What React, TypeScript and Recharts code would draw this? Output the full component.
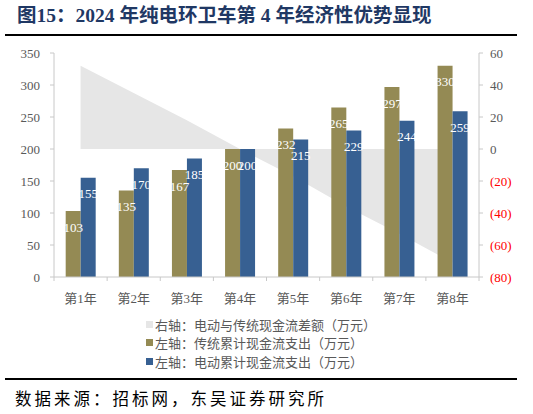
import React from 'react';
import { ComposedChart, Bar, Area, XAxis, YAxis, LabelList } from 'recharts';

const categories = ['第1年', '第2年', '第3年', '第4年', '第5年', '第6年', '第7年', '第8年'];
const traditional = [103, 135, 167, 200, 232, 265, 297, 330];
const electric = [155, 170, 185, 200, 215, 229, 244, 259];
const difference = [52, 35, 18, 0, -17, -36, -53, -71];
const leftTicks = [0, 50, 100, 150, 200, 250, 300, 350];
const rightTicks = [-80, -60, -40, -20, 0, 20, 40, 60];

const titleText = '图15：2024 年纯电环卫车第 4 年经济性优势显现';
const sourceText = '数据来源：招标网，东吴证券研究所';

const COLOR_DIFF = '#E6E6E6';
const COLOR_TRAD = '#948A54';
const COLOR_ELEC = '#376092';
const AXIS = '#C8C8C8';
const TEXT = '#595959';

const legendItems = [
  { label: '右轴：电动与传统现金流差额（万元）', color: COLOR_DIFF },
  { label: '左轴：传统累计现金流支出（万元）', color: COLOR_TRAD },
  { label: '左轴：电动累计现金流支出（万元）', color: COLOR_ELEC },
];

const data = categories.map((c, i) => ({
  name: c,
  trad: traditional[i],
  elec: electric[i],
  diff: difference[i],
}));

const SERIF = "'Liberation Serif', 'Times New Roman', serif";
const CJK = "'Liberation Serif', 'Noto Sans CJK SC', sans-serif";

const LeftTick = (props: any) => {
  const { x, y, payload } = props;
  return (
    <text x={x} y={y} dy="0.355em" textAnchor="end" fill={TEXT} fontSize={13} fontFamily={SERIF}>
      {payload.value}
    </text>
  );
};

const RightTick = (props: any) => {
  const { x, y, payload } = props;
  const v = payload.value as number;
  const label = v < 0 ? `(${Math.abs(v)})` : `${v}`;
  return (
    <text x={x} y={y} dy="0.355em" textAnchor="start" fill={v < 0 ? '#FF0000' : TEXT} fontSize={13} fontFamily={SERIF}>
      {label}
    </text>
  );
};

const XTick = (props: any) => {
  const { x, y, payload, index } = props;
  const off = payload.offset || 0;
  return (
    <g>
      <line x1={x - off} x2={x - off} y1={y} y2={y + 4} stroke={AXIS} />
      {index === categories.length - 1 && (
        <line x1={x + off} x2={x + off} y1={y} y2={y + 4} stroke={AXIS} />
      )}
      <text x={x} y={y + 21} dy="0.355em" textAnchor="middle" fill={TEXT} fontSize={13} fontFamily={CJK}>
        {payload.value}
      </text>
    </g>
  );
};

const BarLabel = (props: any) => {
  const { x, y, width, value } = props;
  return (
    <text
      x={x + width / 2}
      y={y + 16}
      dy="0.355em"
      textAnchor="middle"
      fill="#FFFFFF"
      fontSize={13}
      fontFamily={SERIF}
    >
      {value}
    </text>
  );
};

export default function App() {
  return (
    <div
      style={{
        position: 'absolute',
        left: 0,
        top: 0,
        width: 533,
        height: 414,
        background: '#fff',
        overflow: 'hidden',
      }}
    >
      <div
        style={{
          position: 'absolute',
          left: 17,
          top: 4,
          fontFamily: CJK,
          fontWeight: 'bold',
          fontSize: 19.5,
          color: '#1F3864',
          whiteSpace: 'nowrap',
          lineHeight: '24px',
        }}
      >
        {titleText}
      </div>
      <div style={{ position: 'absolute', left: 5, top: 34, width: 512, height: 2, background: '#000' }} />

      <div style={{ position: 'absolute', left: 0, top: 0 }}>
        <ComposedChart
          width={533}
          height={320}
          data={data}
          margin={{ top: 53, right: 4, left: 14, bottom: 13 }}
          barCategoryGap="22%"
          barGap={0}
        >
          <XAxis
            dataKey="name"
            xAxisId={0}
            height={30}
            axisLine={{ stroke: AXIS }}
            tickLine={false}
            tickSize={0}
            tickMargin={0}
            interval={0}
            tick={<XTick />}
          />
          <YAxis
            yAxisId="left"
            orientation="left"
            width={40}
            type="number"
            domain={[0, 350]}
            ticks={leftTicks}
            interval={0}
            axisLine={{ stroke: AXIS }}
            tickLine={{ stroke: AXIS }}
            tickSize={4}
            tickMargin={10}
            tick={<LeftTick />}
          />
          <YAxis
            yAxisId="right"
            orientation="right"
            width={50}
            type="number"
            domain={[-80, 60]}
            ticks={rightTicks}
            interval={0}
            axisLine={{ stroke: AXIS }}
            tickLine={{ stroke: AXIS }}
            tickSize={4}
            tickMargin={7}
            tick={<RightTick />}
          />
          <Area
            yAxisId="right"
            dataKey="diff"
            type="linear"
            fill={COLOR_DIFF}
            fillOpacity={1}
            stroke="none"
            baseValue={0}
            isAnimationActive={false}
          />
          <Bar yAxisId="left" dataKey="trad" fill={COLOR_TRAD} isAnimationActive={false}>
            <LabelList dataKey="trad" content={<BarLabel />} />
          </Bar>
          <Bar yAxisId="left" dataKey="elec" fill={COLOR_ELEC} isAnimationActive={false}>
            <LabelList dataKey="elec" content={<BarLabel />} />
          </Bar>
        </ComposedChart>
      </div>

      <div style={{ position: 'absolute', left: 146, top: 315 }}>
        {legendItems.map((item) => (
          <div
            key={item.label}
            style={{ display: 'flex', alignItems: 'center', height: 18.5, whiteSpace: 'nowrap' }}
          >
            <div style={{ width: 7, height: 7, background: item.color, marginRight: 2 }} />
            <span style={{ fontFamily: "'Noto Sans CJK SC', sans-serif", fontSize: 13, color: TEXT }}>
              {item.label}
            </span>
          </div>
        ))}
      </div>

      <div style={{ position: 'absolute', left: 5, top: 378, width: 512, height: 2, background: '#000' }} />
      <div
        style={{
          position: 'absolute',
          left: 15,
          top: 386,
          fontFamily: "'Noto Sans CJK SC', sans-serif",
          fontSize: 16.5,
          letterSpacing: 3,
          color: '#000',
          whiteSpace: 'nowrap',
          lineHeight: '24px',
        }}
      >
        {sourceText}
      </div>
    </div>
  );
}
